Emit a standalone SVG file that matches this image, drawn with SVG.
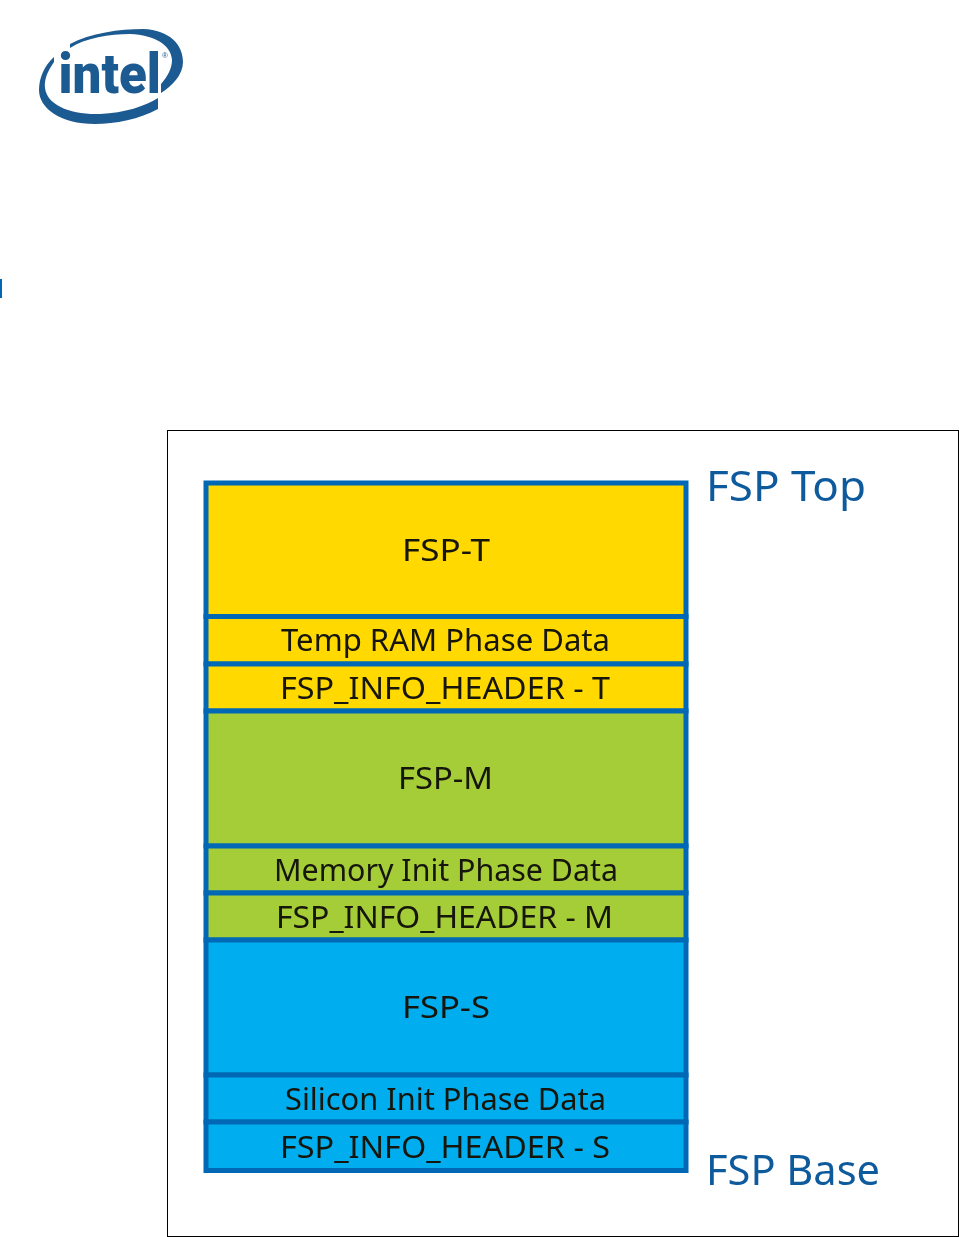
<svg xmlns="http://www.w3.org/2000/svg" width="959" height="1237" viewBox="0 0 959 1237">
<defs><filter id="soft" x="-5%" y="-5%" width="110%" height="110%"><feGaussianBlur stdDeviation="0.6"/></filter></defs>
<style>
.row{stroke:#0068b5;stroke-width:5}
.t{fill:#ffd900}.m{fill:#a5cd39}.s{fill:#00aeef}
.lbl{font-family:"Noto Sans","Open Sans",sans-serif;font-size:31px;fill:#14140a;text-anchor:middle}
.side{font-family:"Noto Sans","Open Sans",sans-serif;font-size:41px;fill:#0f5a9c}
.logo{fill:#1f5a92}
</style>
<rect width="959" height="1237" fill="#fff"/>
<g id="logo" filter="url(#soft)">
<path class="logo" d="M70,44C90,33 120,29 143,29C170,30 183,45 183,62C183,75 172,86 161,93V84C168,76 172,68 172,60C171,45 155,35 130,34C110,34 85,38 70,48Z"/>
<path class="logo" d="M54,57V62C47,72 44,80 45,88C47,105 70,115 100,114C125,113 145,106 158,98V109C140,119 115,124 95,124C60,124 39,108 39,90C39,78 44,66 54,57Z"/>
<text class="logo" transform="translate(58.500 92.500) scale(.93 1)" font-family="Roboto,sans-serif" font-weight="900" font-size="55">intel</text>
<text class="logo" x="162" y="58" font-family="Liberation Sans,sans-serif" font-size="8">®</text>
</g>
<rect id="edge-mark" x="0" y="279" width="2" height="19" fill="#0068b5"/>
<rect id="frame" x="167.500" y="430.500" width="791" height="806" fill="#fff" stroke="#000" stroke-width="1"/>
<g id="node-fsp-t" filter="url(#soft)"><rect class="row t" x="206" y="483" width="480" height="133.500"/><text class="lbl" x="446" y="561" textLength="88" lengthAdjust="spacingAndGlyphs">FSP-T</text></g>
<g id="node-temp-ram" filter="url(#soft)"><rect class="row t" x="206" y="616.500" width="480" height="47.500"/><text class="lbl" x="445.500" y="651" textLength="329" lengthAdjust="spacingAndGlyphs">Temp RAM Phase Data</text></g>
<g id="node-header-t" filter="url(#soft)"><rect class="row t" x="206" y="664" width="480" height="47"/><text class="lbl" x="445" y="699" textLength="330" lengthAdjust="spacingAndGlyphs">FSP_INFO_HEADER - T</text></g>
<g id="node-fsp-m" filter="url(#soft)"><rect class="row m" x="206" y="711" width="480" height="135"/><text class="lbl" x="445.500" y="789" textLength="95" lengthAdjust="spacingAndGlyphs">FSP-M</text></g>
<g id="node-memory" filter="url(#soft)"><rect class="row m" x="206" y="846" width="480" height="47"/><text class="lbl" x="446" y="881" textLength="344" lengthAdjust="spacingAndGlyphs">Memory Init Phase Data</text></g>
<g id="node-header-m" filter="url(#soft)"><rect class="row m" x="206" y="893" width="480" height="47"/><text class="lbl" x="444.500" y="928" textLength="337" lengthAdjust="spacingAndGlyphs">FSP_INFO_HEADER - M</text></g>
<g id="node-fsp-s" filter="url(#soft)"><rect class="row s" x="206" y="940" width="480" height="135"/><text class="lbl" x="446" y="1018" textLength="88" lengthAdjust="spacingAndGlyphs">FSP-S</text></g>
<g id="node-silicon" filter="url(#soft)"><rect class="row s" x="206" y="1075" width="480" height="47"/><text class="lbl" x="445.500" y="1110" textLength="321" lengthAdjust="spacingAndGlyphs">Silicon Init Phase Data</text></g>
<g id="node-header-s" filter="url(#soft)"><rect class="row s" x="206" y="1122" width="480" height="48.500"/><text class="lbl" x="445" y="1158" textLength="330" lengthAdjust="spacingAndGlyphs">FSP_INFO_HEADER - S</text></g>
<g id="connectors"/>
<g id="label-top" filter="url(#soft)"><text class="side" x="706" y="501" textLength="160" lengthAdjust="spacingAndGlyphs">FSP Top</text></g>
<g id="label-base" filter="url(#soft)"><text class="side" x="706" y="1185" textLength="174" lengthAdjust="spacingAndGlyphs">FSP Base</text></g>
</svg>
